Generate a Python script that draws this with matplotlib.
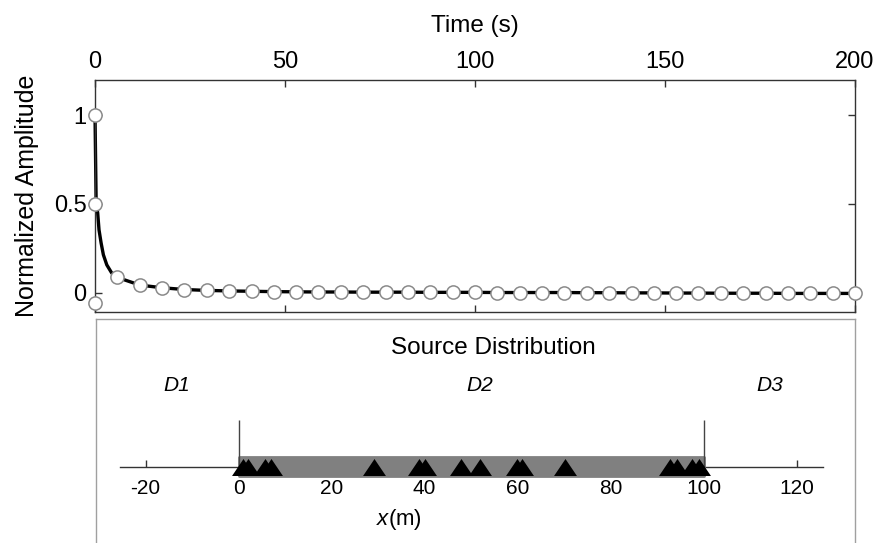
import matplotlib
matplotlib.use('Agg')
import matplotlib.pyplot as plt

# decay curve (upper panel)
curve_time = [0.0, 0.15, 0.3, 0.7, 1.05, 1.6, 2.2, 3.1, 4.4]
curve_amp = [1.0, 0.75, 0.5, 0.45, 0.354, 0.28, 0.213, 0.156, 0.11]

marker_time = [5.9, 11.8, 17.6, 23.5, 29.4, 35.3, 41.2, 47.1, 52.9, 58.8,
			   64.7, 70.6, 76.5, 82.4, 88.2, 94.1, 100.0, 105.9, 111.8, 117.6,
			   123.5, 129.4, 135.3, 141.2, 147.1, 152.9, 158.8, 164.7, 170.6, 176.5,
			   182.4, 188.2, 194.1, 200.0]
marker_amp = [0.085, 0.042, 0.027, 0.017, 0.012, 0.009, 0.007, 0.005, 0.004, 0.003,
			  0.003, 0.002, 0.002, 0.002, 0.001, 0.001, 0.001, 0.0, 0.0, 0.0,
			  0.0, -0.001, -0.001, -0.002, -0.002, -0.003, -0.003, -0.004, -0.004, -0.004,
			  -0.005, -0.005, -0.005, -0.005]

# odd markers sitting on t = 0
start_time = [0.0, 0.0, 0.0]
start_amp = [1.0, 0.5, -0.06]

time_ticks = [0, 50, 100, 150, 200]
amp_ticks = [0, 0.5, 1]
amp_labels = ['0', '0.5', '1']

# source distribution (lower panel)
source_x = [0.9, 2.1, 5.7, 7.0, 29.2, 38.9, 40.0, 47.9, 51.9, 59.8,
			60.9, 70.2, 92.8, 94.3, 97.6, 99.0]
domain_start = 0
domain_end = 100
x_ticks = [-20, 0, 20, 40, 60, 80, 100, 120]
domain_names = ['D1', 'D2', 'D3']


def main():
	plt.rcParams['font.family'] = ['Liberation Sans', 'DejaVu Sans']
	plt.rcParams['axes.unicode_minus'] = False
	plt.rcParams['mathtext.fontset'] = 'custom'
	plt.rcParams['mathtext.it'] = 'Liberation Sans:italic'
	plt.rcParams['mathtext.rm'] = 'Liberation Sans'

	fig = plt.figure(figsize=(8.79, 5.43), dpi=100)

	# ---- upper panel: normalized amplitude vs time
	ax = fig.add_axes([0.1081, 0.4254, 0.8646, 0.4273])
	ax.plot(curve_time + marker_time, curve_amp + marker_amp, color='black', lw=2.4,
			zorder=2, clip_on=False)
	ax.plot(start_time + marker_time, start_amp + marker_amp, ls='none', marker='o', ms=9.5,
			mfc='white', mec='#8a8a8a', mew=1.1, zorder=3, clip_on=False)
	ax.set_xlim(0, 200)
	ax.set_ylim(-0.11, 1.2)
	ax.set_xticks(time_ticks)
	ax.set_yticks(amp_ticks)
	ax.set_yticklabels(amp_labels)
	ax.xaxis.tick_top()
	ax.xaxis.set_label_position('top')
	ax.tick_params(axis='x', direction='in', top=True, bottom=True, length=5, width=1,
				   pad=5, labelsize=17, color='#333333')
	ax.tick_params(axis='y', direction='in', left=True, right=True, length=5, width=1,
				   pad=6, labelsize=17, color='#333333')
	ax.set_xlabel('Time (s)', fontsize=17.5, labelpad=14)
	ax.set_ylabel('Normalized Amplitude', fontsize=18, labelpad=11)
	for s in ax.spines.values():
		s.set_color('#333333')
		s.set_linewidth(1.0)

	# ---- lower panel frame
	fr = fig.add_axes([0.1092, 0.0, 0.8635, 0.4125])
	fr.set_xticks([])
	fr.set_yticks([])
	fr.spines['bottom'].set_visible(False)
	for s in ['left', 'right', 'top']:
		fr.spines[s].set_color('#a0a0a0')
		fr.spines[s].set_linewidth(1.0)
	fr.text(0.524, 0.87, 'Source Distribution', fontsize=17.5, ha='center', va='center',
			transform=fr.transAxes)
	for name, xpos in zip(domain_names, [0.107, 0.506, 0.888]):
		fr.text(xpos, 0.702, name, fontsize=15, style='italic', ha='center', va='center',
				transform=fr.transAxes)

	# ---- number line with the sources
	nl = fig.add_axes([0.1370, 0.0479, 0.7993, 0.1842])
	nl.patch.set_alpha(0)
	nl.set_xlim(-25.4, 125.7)
	nl.set_ylim(-1, 1)
	for s in ['left', 'right', 'top']:
		nl.spines[s].set_visible(False)
	nl.spines['bottom'].set_position(('data', 0))
	nl.spines['bottom'].set_color('#333333')
	nl.spines['bottom'].set_linewidth(1.0)
	nl.set_yticks([])
	nl.set_xticks(x_ticks)
	nl.tick_params(axis='x', direction='in', length=5, width=1, pad=9, labelsize=15,
				   color='#333333')

	nl.barh(0, domain_end - domain_start, left=domain_start, height=0.38, color='#808080',
			edgecolor='#808080', linewidth=2, joinstyle='round', zorder=3)
	nl.vlines([domain_start, domain_end], 0, 0.93, color='#444444', lw=1.0, zorder=3)
	tri = [(-1.35, -1), (1.35, -1), (0, 1)]
	nl.plot(source_x, [0] * len(source_x), ls='none', marker=tri, ms=16.5,
			color='black', mew=0, zorder=4)
	nl.text(34.4, -1.06, '$x$(m)', fontsize=16, ha='center', va='center')

	plt.savefig('out.png', dpi=100)


if __name__ == '__main__':
	main()
